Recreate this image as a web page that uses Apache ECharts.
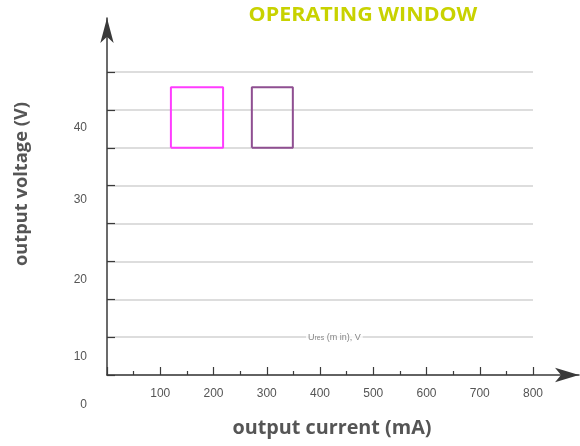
<!DOCTYPE html>
<html><head><meta charset="utf-8">
<script src="https://cdn.jsdelivr.net/npm/echarts@6/dist/echarts.min.js"></script>
<style>html,body{margin:0;padding:0;background:#fff}#c{width:580px;height:446px}</style>
</head><body><div id="c"></div>
<script>
// ---- data ----
const titleText = 'OPERATING WINDOW';
const xAxisName = 'output current (mA)';
const yAxisName = 'output voltage (V)';
const xTickValues = [100, 200, 300, 400, 500, 600, 700, 800];
const yTickLabels = ['0', '10', '20', '30', '40'];
// where the y labels sit (in label-axis units)
const yTickLabelValues = [-4, 2.3, 12.5, 23.1, 32.7];
const windowNames = ['window A', 'window B'];
const currentMin = [120, 272];
const currentMax = [218, 349];
const voltageMin = [30, 30];
const voltageMax = [38, 38];
const noteText = 'Ures (min), V';
const notePoint = [427, 5];

// ---- chart ----
const chart = echarts.init(document.getElementById('c'), null, {renderer: 'canvas'});
const windowColors = ['#ff3cff', '#8f4f91'];
const rectSeries = windowNames.map((n, i) => ({
  name: n, type: 'line', xAxisIndex: 1, yAxisIndex: 1,
  showSymbol: false, silent: true,
  lineStyle: {color: windowColors[i], width: 2},
  itemStyle: {color: windowColors[i]},
  data: [[currentMin[i], voltageMin[i]], [currentMax[i], voltageMin[i]],
         [currentMax[i], voltageMax[i]], [currentMin[i], voltageMax[i]],
         [currentMin[i], voltageMin[i]]]
}));
const labelMap = {};
yTickLabelValues.forEach((v, i) => { labelMap[v] = yTickLabels[i]; });

const axisDark = '#3a3a3a';
const option = {
  animation: false,
  backgroundColor: '#fff',
  grid: [
    {left: 107, right: 1, top: 18, bottom: 71},
    {left: 107, right: 47, top: 72, bottom: 71},
    {left: 107, right: 47, top: 72, bottom: 11}
  ],
  xAxis: [
    {gridIndex: 0, type: 'value', min: 0, max: 1,
     axisLine: {show: true, symbol: ['none', 'arrow'], symbolSize: [11, 24], lineStyle: {color: axisDark, width: 1.5}},
     axisTick: {show: false}, axisLabel: {show: false}, splitLine: {show: false}},
    {gridIndex: 1, type: 'value', min: 0, max: 800, interval: 100,
     axisLine: {show: false},
     axisTick: {show: true, inside: true, length: 8, lineStyle: {color: axisDark, width: 1.2}},
     minorTick: {show: true, splitNumber: 2, length: 4, lineStyle: {color: axisDark, width: 1.2}},
     axisLabel: {show: true, customValues: xTickValues, margin: 13, color: '#555', fontSize: 12, fontFamily: 'Liberation Sans'},
     splitLine: {show: false}},
    {gridIndex: 2, type: 'value', min: 0, max: 1, show: false}
  ],
  yAxis: [
    {gridIndex: 0, type: 'value', min: 0, max: 1,
     axisLine: {show: true, symbol: ['none', 'arrow'], symbolSize: [10, 25], lineStyle: {color: axisDark, width: 1.5}},
     axisTick: {show: false}, axisLabel: {show: false}, splitLine: {show: false}},
    {gridIndex: 1, type: 'value', min: 0, max: 40, interval: 5,
     axisLine: {show: false},
     axisTick: {show: true, inside: true, length: 8, lineStyle: {color: axisDark, width: 1.2}},
     axisLabel: {show: false},
     splitLine: {show: true, lineStyle: {color: '#d2d2d2', width: 1.5}}},
    {gridIndex: 2, type: 'value', min: -8, max: 40,
     axisLine: {show: false}, axisTick: {show: false}, splitLine: {show: false},
     axisLabel: {show: true, customValues: yTickLabelValues, margin: 20, color: '#555', fontSize: 12,
                 fontFamily: 'Liberation Sans', formatter: v => labelMap[v] ?? ''}}
  ],
  graphic: [
    {type: 'text', x: 363, y: 16, scaleX: 1.13, style: {text: titleText, fill: '#c8d200', font: 'bold 19px "Open Sans"', textAlign: 'center', textVerticalAlign: 'middle'}},
    {type: 'text', x: 332, y: 428, style: {text: xAxisName, fill: '#555', font: 'bold 19.8px "Open Sans"', textAlign: 'center', textVerticalAlign: 'middle'}},
    {type: 'text', x: 22, y: 184, rotation: Math.PI / 2, style: {text: yAxisName, fill: '#555', font: 'bold 18.3px "Open Sans"', textAlign: 'center', textVerticalAlign: 'middle'}}
  ],
  series: rectSeries.concat([{
    type: 'scatter', xAxisIndex: 1, yAxisIndex: 1, silent: true,
    symbolSize: 1, itemStyle: {color: 'rgba(0,0,0,0)'},
    data: [notePoint],
    label: {show: true, position: 'inside', formatter: '{a|U}{b|res}{a| (m in), V}',
            backgroundColor: '#fff', padding: [1, 2],
            rich: {a: {fontSize: 9, color: '#666', fontFamily: 'Liberation Sans'},
                   b: {fontSize: 7, color: '#666', fontFamily: 'Liberation Sans', verticalAlign: 'bottom'}}}
  }])
};
chart.setOption(option);
</script></body></html>
